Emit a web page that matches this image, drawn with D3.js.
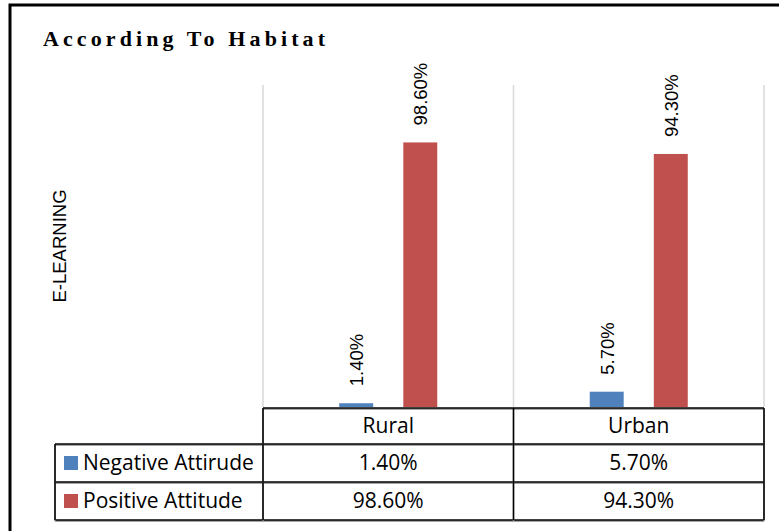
<!DOCTYPE html>
<html>
<head>
<meta charset="utf-8">
<script src="https://cdn.jsdelivr.net/npm/d3@7"></script>
<style>
  body { margin: 0; background: #fff; }
  svg { display: block; }
</style>
</head>
<body>
<script>
// data
var categories = ["Rural", "Urban"];
var seriesNames = ["Negative Attirude", "Positive Attitude"];
var negative = [1.4, 5.7];
var positive = [98.6, 94.3];
var colors = ["#4f81bd", "#c0504d"];

var width = 779,
    height = 531;

var svg = d3.select("body").append("svg")
    .attr("width", width)
    .attr("height", height);

// outer frame (left and top only show in the picture)
svg.append("path")
    .attr("d", "M10,531 L10,5 L779,5")
    .attr("fill", "none")
    .attr("stroke", "#000")
    .attr("stroke-width", 3);

// title
svg.append("text")
    .attr("x", 43)
    .attr("y", 46)
    .attr("font-family", "Liberation Serif, serif")
    .attr("font-weight", "bold")
    .attr("font-size", 22)
    .attr("letter-spacing", 4.1)
    .text("According To Habitat");

// scales
var x = d3.scaleBand()
    .domain(categories)
    .range([263, 764]);

var xs = d3.scaleBand()
    .domain([0, 1])
    .range([0, x.bandwidth()])
    .paddingInner(0.47)
    .paddingOuter(1.19);

var y = d3.scaleLinear()
    .domain([0, 120])
    .range([407, 85]);

// vertical gridlines at category edges
var edges = categories.map(function(c) { return x(c); }).concat([x.range()[1]]);
svg.append("g")
    .selectAll("line")
    .data(edges)
    .enter().append("line")
    .attr("x1", function(d) { return d; })
    .attr("x2", function(d) { return d; })
    .attr("y1", y(120))
    .attr("y2", y(0))
    .attr("stroke", "#d9d9d9")
    .attr("stroke-width", 1.5);

// y axis title
svg.append("text")
    .attr("transform", "translate(66,246) rotate(-90)")
    .attr("text-anchor", "middle")
    .attr("font-family", "Liberation Sans, Arial, sans-serif")
    .attr("font-size", 18.5)
    .text("E-LEARNING");

// bars
var rows = categories.map(function(c, i) {
    return { cat: c, values: [negative[i], positive[i]] };
});

var group = svg.append("g")
    .selectAll("g")
    .data(rows)
    .enter().append("g")
    .attr("transform", function(d) { return "translate(" + x(d.cat) + ",0)"; });

group.selectAll("rect")
    .data(function(d) { return d.values; })
    .enter().append("rect")
    .attr("x", function(d, i) { return xs(i); })
    .attr("width", xs.bandwidth())
    .attr("y", function(d) { return y(d); })
    .attr("height", function(d) { return y(0) - y(d); })
    .attr("fill", function(d, i) { return colors[i]; });

// data labels, rotated
group.selectAll("text")
    .data(function(d) { return d.values; })
    .enter().append("text")
    .attr("transform", function(d, i) {
        return "translate(" + (xs(i) + xs.bandwidth() / 2 + 7) + "," + (y(d) - 17) + ") rotate(-90)";
    })
    .attr("font-family", "Liberation Sans, Arial, sans-serif")
    .attr("font-size", 18.5)
    .text(function(d) { return d.toFixed(2) + "%"; });

// data table under the chart
var table = svg.append("g")
    .attr("font-family", "Open Sans, sans-serif")
    .attr("font-size", 21);

var rowTop = [408, 444, 482],
    rowBottom = 520,
    legendLeft = 55;

var tableLine = function(x1, y1, x2, y2) {
    table.append("line")
        .attr("x1", x1).attr("y1", y1 + 1)
        .attr("x2", x2).attr("y2", y2 + 1)
        .attr("stroke", "#888")
        .attr("stroke-width", 1.5);
    table.append("line")
        .attr("x1", x1).attr("y1", y1)
        .attr("x2", x2).attr("y2", y2)
        .attr("stroke", "#000")
        .attr("stroke-width", 1.5);
};

// horizontal lines
tableLine(263, rowTop[0], 764, rowTop[0]);
tableLine(legendLeft, rowTop[1], 764, rowTop[1]);
tableLine(legendLeft, rowTop[2], 764, rowTop[2]);
tableLine(legendLeft, rowBottom, 764, rowBottom);
// vertical lines
tableLine(legendLeft, rowTop[1], legendLeft, rowBottom);
edges.forEach(function(e) { tableLine(e, rowTop[0], e, rowBottom); });

// header
table.selectAll("text.cat")
    .data(categories)
    .enter().append("text")
    .attr("class", "cat")
    .attr("x", function(d) { return x(d) + x.bandwidth() / 2; })
    .attr("y", (rowTop[0] + rowTop[1]) / 2)
    .attr("dy", "0.35em")
    .attr("text-anchor", "middle")
    .text(function(d) { return d; });

// value rows
var seriesData = [negative, positive];
seriesData.forEach(function(vals, s) {
    var top = rowTop[s + 1],
        bottom = s + 2 < rowTop.length ? rowTop[s + 2] : rowBottom,
        mid = (top + bottom) / 2;

    table.append("rect")
        .attr("x", 64)
        .attr("y", mid - 7)
        .attr("width", 14)
        .attr("height", 14)
        .attr("fill", colors[s]);

    table.append("text")
        .attr("x", 83)
        .attr("y", mid)
        .attr("dy", "0.35em")
        .text(seriesNames[s]);

    table.selectAll("text.v" + s)
        .data(vals)
        .enter().append("text")
        .attr("class", "v" + s)
        .attr("x", function(d, i) { return x(categories[i]) + x.bandwidth() / 2; })
        .attr("y", mid)
        .attr("dy", "0.35em")
        .attr("text-anchor", "middle")
        .text(function(d) { return d.toFixed(2) + "%"; });
});
</script>
</body>
</html>
